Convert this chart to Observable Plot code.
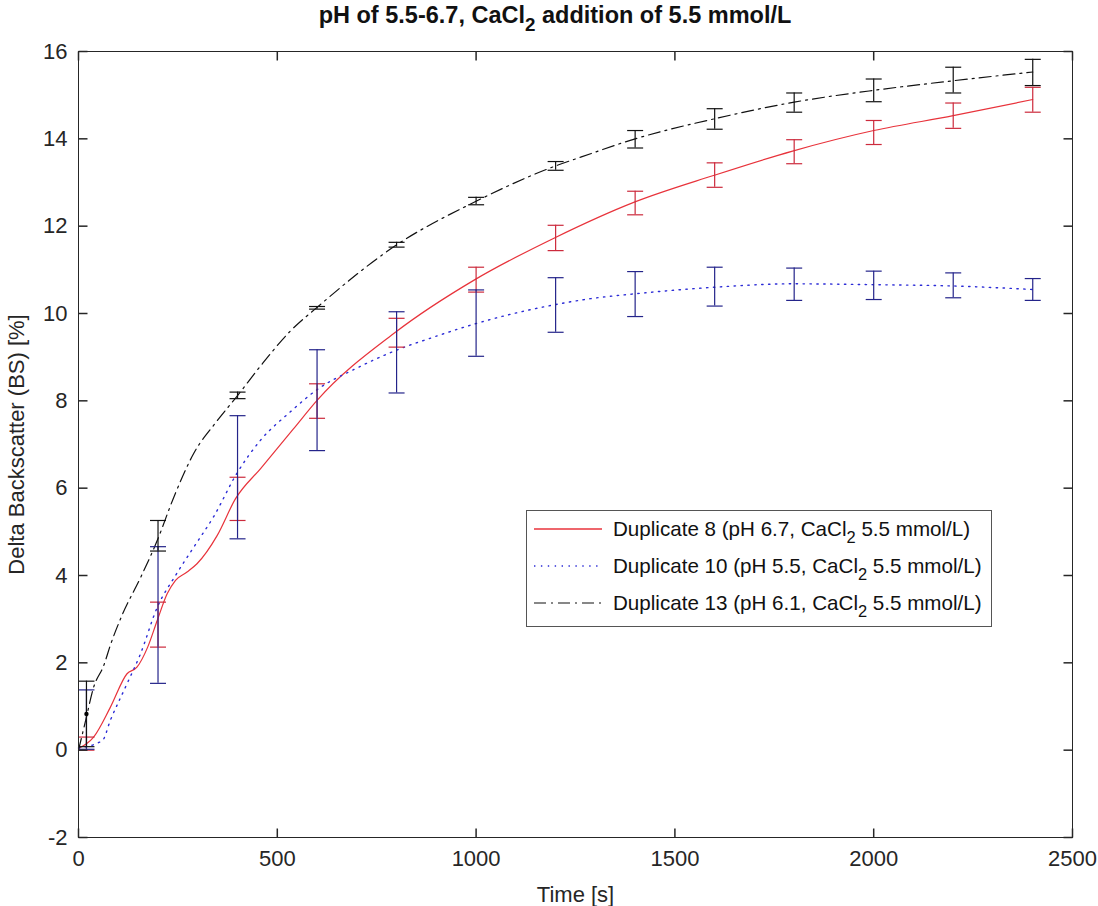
<!DOCTYPE html>
<html>
<head>
<meta charset="utf-8">
<script src="https://cdn.jsdelivr.net/npm/d3@7"></script>
<script src="https://cdn.jsdelivr.net/npm/@observablehq/plot@0.6"></script>
<style>
  body { margin: 0; background: #fff; font-family: "Liberation Sans", Arial, Helvetica, sans-serif; }
  #wrap { position: relative; width: 1098px; height: 906px; overflow: hidden; }
  #title { position: absolute; top: 2px; left: 0; width: 1110px; text-align: center; font-weight: bold; font-size: 23.5px; color: #111; white-space: nowrap; }
  #chart { position: absolute; top: 36px; left: 0; }
  #legend { position: absolute; left: 526px; top: 510px; width: 464px; height: 115px; border: 1px solid #555; background: #fff; }
  .row { position: absolute; left: 0; height: 30px; display: flex; align-items: center; font-size: 20.6px; color: #111; white-space: nowrap; }
  .row svg { margin-left: 6px; margin-right: 10px; }
  sub { font-size: 0.8em; vertical-align: -0.4em; line-height: 0; }
</style>
</head>
<body>
<div id="wrap">
  <div id="title">pH of 5.5-6.7, CaCl<sub>2</sub> addition of 5.5 mmol/L</div>
  <div id="chart"></div>
  <div id="legend"></div>
</div>
<script>
// ---- Data ----
const xTicks = [0, 500, 1000, 1500, 2000, 2500];
const yTicks = [-2, 0, 2, 4, 6, 8, 10, 12, 14, 16];

const seriesNames = [
  "Duplicate 8 (pH 6.7, CaCl|2| 5.5 mmol/L)",
  "Duplicate 10 (pH 5.5, CaCl|2| 5.5 mmol/L)",
  "Duplicate 13 (pH 6.1, CaCl|2| 5.5 mmol/L)"
];

// Smooth curves
const redT = [0, 38, 80, 122, 147, 174, 198, 223, 244, 273, 298, 349, 395, 458, 540, 600, 797, 996, 1197, 1398, 1597, 1796, 2000, 2200, 2400];
const redV = [0.04, 0.30, 0.98, 1.75, 1.90, 2.36, 2.97, 3.58, 3.89, 4.08, 4.27, 4.92, 5.76, 6.45, 7.35, 8.01, 9.57, 10.77, 11.73, 12.55, 13.16, 13.72, 14.19, 14.53, 14.90];

const blueT = [0, 60, 80, 122, 156, 198, 244, 290, 340, 399, 458, 533, 599, 700, 797, 900, 996, 1197, 1288, 1398, 1597, 1796, 2000, 2200, 2400];
const blueV = [0.05, 0.22, 0.68, 1.52, 2.21, 3.27, 4.00, 4.65, 5.35, 6.35, 7.10, 7.75, 8.25, 8.75, 9.15, 9.48, 9.76, 10.20, 10.34, 10.45, 10.60, 10.68, 10.66, 10.63, 10.55];

const blackT = [0, 18, 38, 64, 80, 110, 156, 198, 240, 290, 345, 400, 458, 533, 600, 800, 1000, 1200, 1263, 1400, 1600, 1800, 2000, 2200, 2400];
const blackV = [0.0, 0.68, 1.44, 1.95, 2.40, 3.10, 3.95, 4.80, 5.80, 6.80, 7.50, 8.12, 8.80, 9.60, 10.14, 11.57, 12.57, 13.38, 13.58, 14.00, 14.46, 14.84, 15.11, 15.33, 15.53];

// Error bars
const errT = [20, 200, 400, 600, 800, 1000, 1200, 1400, 1600, 1800, 2000, 2200, 2400];
const redLo = [0.00, 2.36, 5.26, 7.60, 9.23, 10.49, 11.44, 12.26, 12.89, 13.43, 13.87, 14.24, 14.61];
const redHi = [0.30, 3.39, 6.25, 8.39, 9.89, 11.06, 12.02, 12.80, 13.45, 13.98, 14.42, 14.82, 15.18];
const blueLo = [0.02, 1.53, 4.84, 6.86, 8.18, 9.02, 9.57, 9.93, 10.17, 10.30, 10.32, 10.36, 10.30];
const blueHi = [1.38, 4.66, 7.66, 9.17, 10.04, 10.54, 10.82, 10.96, 11.06, 11.04, 10.97, 10.93, 10.80];
const blackLo = [0.08, 4.56, 8.05, 10.10, 11.52, 12.49, 13.28, 13.79, 14.22, 14.61, 14.85, 15.05, 15.22];
const blackHi = [1.58, 5.26, 8.20, 10.16, 11.63, 12.66, 13.48, 14.19, 14.69, 15.05, 15.37, 15.64, 15.82];

// ---- Styles ----
const redLine = "#e8333b", redBar = "#cc2a3c";
const blueLine = "#2b2bd6", blueBar = "#24248a";
const blackLine = "#111111", blackBar = "#111111";
const axisColor = "#262626";

const toLine = (T, V) => T.map((t, i) => ({t, v: V[i]}));
const toErr = (Lo, Hi) => errT.map((t, i) => ({t, lo: Lo[i], hi: Hi[i], mid: (Lo[i] + Hi[i]) / 2}));

const red = toLine(redT, redV), blue = toLine(blueT, blueV), black = toLine(blackT, blackV);
const redE = toErr(redLo, redHi), blueE = toErr(blueLo, blueHi), blackE = toErr(blackLo, blackHi);

const capSym = {draw(ctx) { ctx.moveTo(-8, 0); ctx.lineTo(8, 0); }};
const tUp = {draw(ctx) { ctx.moveTo(0, 0); ctx.lineTo(0, -9); }};
const tDown = {draw(ctx) { ctx.moveTo(0, 0); ctx.lineTo(0, 9); }};
const tRight = {draw(ctx) { ctx.moveTo(0, 0); ctx.lineTo(9, 0); }};
const tLeft = {draw(ctx) { ctx.moveTo(0, 0); ctx.lineTo(-9, 0); }};

function errMarks(E, color) {
  return [
    Plot.ruleX(E, {x: "t", y1: "lo", y2: "hi", stroke: color, strokeWidth: 1.2}),
    Plot.dot(E, {x: "t", y: "lo", symbol: capSym, stroke: color, strokeWidth: 1.2, fill: "none"}),
    Plot.dot(E, {x: "t", y: "hi", symbol: capSym, stroke: color, strokeWidth: 1.2, fill: "none"})
  ];
}

const xDom = [0, 2500], yDom = [-2, 16];

const chart = Plot.plot({
  width: 1098,
  height: 870,
  marginTop: 15,
  marginBottom: 69,
  marginLeft: 78,
  marginRight: 26,
  style: {fontFamily: '"Liberation Sans", Arial, Helvetica, sans-serif', fontSize: "22px", color: axisColor, background: "#fff"},
  x: {domain: xDom},
  y: {domain: yDom},
  marks: [
    Plot.line(red, {x: "t", y: "v", stroke: redLine, strokeWidth: 1.2, curve: "monotone-x"}),
    Plot.line(blue, {x: "t", y: "v", stroke: blueLine, strokeWidth: 1.4, strokeDasharray: "1.4,5.5", curve: "monotone-x"}),
    Plot.line(black, {x: "t", y: "v", stroke: blackLine, strokeWidth: 1.2, strokeDasharray: "12,5,2,5", curve: "monotone-x"}),
    ...errMarks(redE, redBar),
    ...errMarks(blueE, blueBar),
    ...errMarks(blackE, blackBar),
    Plot.dot(blackE.slice(0, 1), {x: "t", y: "mid", r: 2.2, fill: "#000"}),
    // inward ticks on all four sides
    Plot.dot(xTicks, {x: d => d, y: () => yDom[0], symbol: tUp, stroke: axisColor, fill: "none"}),
    Plot.dot(xTicks, {x: d => d, y: () => yDom[1], symbol: tDown, stroke: axisColor, fill: "none"}),
    Plot.dot(yTicks, {y: d => d, x: () => xDom[0], symbol: tRight, stroke: axisColor, fill: "none"}),
    Plot.dot(yTicks, {y: d => d, x: () => xDom[1], symbol: tLeft, stroke: axisColor, fill: "none"}),
    Plot.axisX({ticks: xTicks, tickSize: 0, tickPadding: 13, tickFormat: d => String(d), fontSize: 22,
      label: "Time [s]", labelAnchor: "center", labelArrow: "none", labelOffset: 64}),
    Plot.axisY({ticks: yTicks, tickSize: 0, tickPadding: 11, tickFormat: d => String(d), fontSize: 22,
      label: "Delta Backscatter (BS) [%]", labelAnchor: "center", labelArrow: "none", labelOffset: 70}),
    Plot.frame({stroke: axisColor, strokeWidth: 1})
  ]
});
document.getElementById("chart").appendChild(chart);

// ---- Legend ----
const legendStyles = [
  {color: redLine, dash: null, width: 1.4},
  {color: blueLine, dash: "1.4,5.5", width: 1.4},
  {color: blackLine, dash: "12,5,2,5", width: 1.2}
];
const legend = document.getElementById("legend");
const rowCenters = [18, 55, 92];
seriesNames.forEach((name, i) => {
  const row = document.createElement("div");
  row.className = "row";
  row.style.top = (rowCenters[i] - 15) + "px";
  const s = legendStyles[i];
  row.innerHTML = `<svg width="70" height="10"><line x1="1" y1="5" x2="69" y2="5" stroke="${s.color}" stroke-width="${s.width}" ${s.dash ? `stroke-dasharray="${s.dash}"` : ""}/></svg>`;
  const parts = name.split("|");
  const span = document.createElement("span");
  span.innerHTML = parts[0] + "<sub>" + parts[1] + "</sub>" + parts[2];
  row.appendChild(span);
  legend.appendChild(row);
});
</script>
</body>
</html>
